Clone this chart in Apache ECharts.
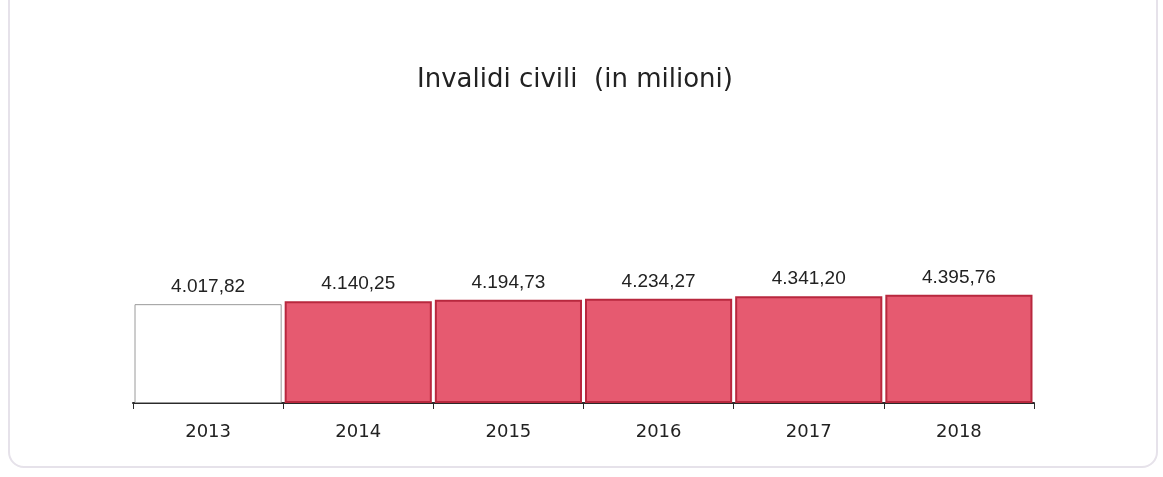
<!DOCTYPE html>
<html>
<head>
<meta charset="utf-8">
<script src="https://cdn.jsdelivr.net/npm/echarts@6/dist/echarts.min.js"></script>
<style>
html,body{margin:0;padding:0;background:#fff;overflow:hidden;}
#frame{position:absolute;left:8px;top:-30px;width:1150px;height:498px;border:2px solid #e6e2ea;border-radius:16px;box-sizing:border-box;}
#chart{position:absolute;left:0;top:0;width:1163px;height:477px;}
</style>
</head>
<body>
<div id="frame"></div>
<div id="chart"></div>
<script>
const titleText = 'Invalidi civili  (in milioni)';
const years = ['2013', '2014', '2015', '2016', '2017', '2018'];
const values = [4017.82, 4140.25, 4194.73, 4234.27, 4341.20, 4395.76];

function fmt(v) {
  const parts = v.toFixed(2).split('.');
  return parts[0].replace(/\B(?=(\d{3})+(?!\d))/g, '.') + ',' + parts[1];
}

const chart = echarts.init(document.getElementById('chart'));
chart.setOption({
  backgroundColor: 'transparent',
  animation: false,
  title: {
    text: titleText,
    left: 570,
    textAlign: 'center',
    top: 62,
    textStyle: { fontFamily: 'DejaVu Sans', fontSize: 26, fontWeight: 'normal', color: '#222' }
  },
  grid: { left: 133, right: 129, top: 280, bottom: 74 },
  xAxis: {
    type: 'category',
    data: years,
    axisLine: { lineStyle: { color: '#2a2a2a', width: 2 } },
    axisTick: { show: true, length: 6, lineStyle: { color: '#2a2a2a' } },
    axisLabel: { fontFamily: 'DejaVu Sans', fontSize: 18, color: '#222', margin: 20 }
  },
  yAxis: {
    type: 'value',
    min: 0,
    max: 5000,
    show: false,
    splitLine: { show: false }
  },
  series: [{
    type: 'bar',
    barWidth: '98%',
    data: values.map((v, i) => ({
      value: v,
      itemStyle: i === 0
        ? { color: '#ffffff', borderColor: '#9a9a9a', borderWidth: 1 }
        : { color: '#e65a70', borderColor: '#b8283e', borderWidth: 2 }
    })),
    label: {
      show: true,
      position: 'top',
      distance: 8,
      formatter: p => fmt(p.value),
      fontFamily: 'Liberation Sans',
      fontSize: 19,
      color: '#222'
    }
  }]
});
</script>
</body>
</html>
